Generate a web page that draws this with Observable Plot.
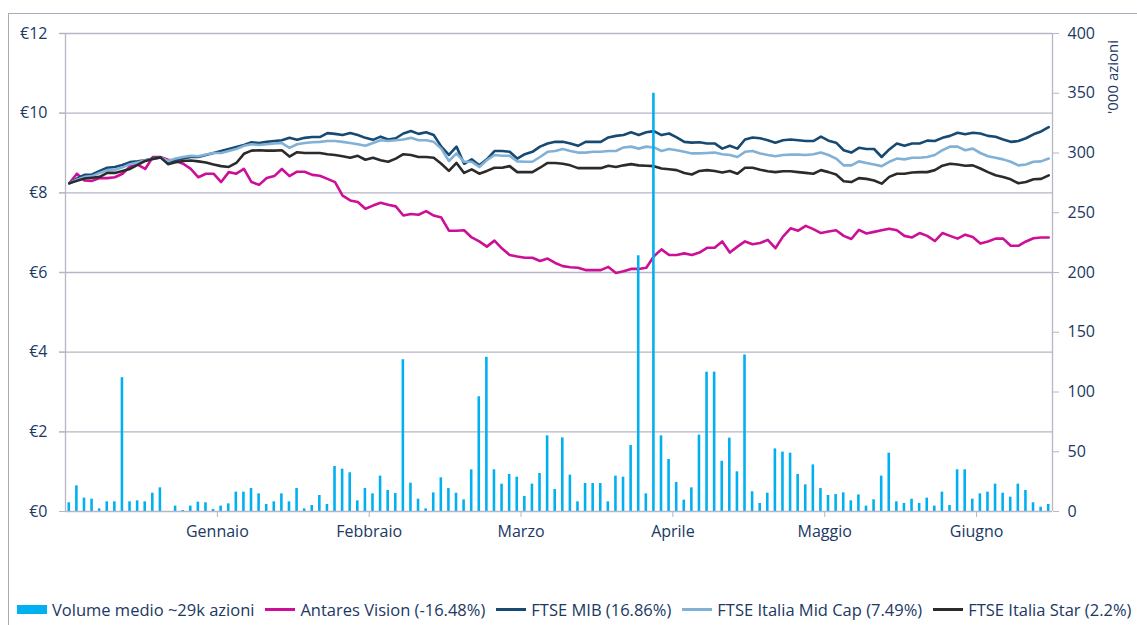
<!DOCTYPE html>
<html><head><meta charset="utf-8">
<script src="https://cdn.jsdelivr.net/npm/d3@7"></script>
<script src="https://cdn.jsdelivr.net/npm/@observablehq/plot@0.6"></script>
<style>
html,body{margin:0;padding:0;background:#fff;}
body{width:1137px;height:625px;position:relative;overflow:hidden;font-family:"Open Sans",sans-serif;color:#203864;}
#frame{position:absolute;left:8px;top:13px;width:1200px;height:700px;border-left:1.5px solid #aaaab8;border-top:1.5px solid #aaaab8;}
#chart{position:absolute;left:0;top:0;}
#ylab2{position:absolute;left:1112px;top:77px;transform:translate(-50%,-50%) rotate(-90deg);font-size:15px;white-space:nowrap;color:#203864;}
#legend{position:absolute;left:17px;top:598px;display:flex;align-items:center;gap:11px;white-space:nowrap;font-size:16.5px;color:#203864;}
.item{display:flex;align-items:center;gap:5px;}
.sw-bar{width:30px;height:9px;background:#00b0f0;}
.sw-line{width:30px;height:3px;}
</style>
</head><body>
<div id="frame"></div>
<div id="chart"></div>
<div id="ylab2">'000 azioni</div>
<div id="legend"></div>
<script>
const months = ["Gennaio","Febbraio","Marzo","Aprile","Maggio","Giugno"];
const monthTicks = [20,40,60,80,100,120];
const priceTicks = [0,2,4,6,8,10,12];
const volumeTicks = [0,50,100,150,200,250,300,350,400];

const volume = [7.3,21.5,11.2,10.3,2.2,8.1,8.1,112,8.1,8.9,8.1,15.3,19.8,0,4.5,0.8,4.5,7.8,7.3,1.7,
4.5,6.4,16.2,16.2,19.2,14.8,5.9,8.1,14.8,8.1,19.2,2.2,5,13.4,5.9,37.7,35.4,32.4,8.9,19.2,
14.8,29.6,17.6,15,127,23.7,10.3,2.2,15.6,28.2,19.2,15.3,9.8,34.9,96,129,34.9,22.9,31,28.7,
12.6,22.9,31.8,63.3,18.4,61.6,30.4,8.1,23.4,23.4,23.4,8.1,29.6,28.7,55.2,214,14.8,350,63.3,43.5,
24.3,9.5,19.8,63.9,116.6,116.6,42,61.4,33.2,131,16.5,6.7,15.3,52.4,49.7,48.8,31,22.3,39,19.2,
13.4,14.2,15.6,8.9,13.9,4.5,9.8,29.6,48.8,8.1,6.7,10.3,6.7,11.2,4.5,16.2,5,34.9,34.9,10.3,
14.8,16.2,22.9,15.3,12,22.9,17.6,7.3,3.6,5.9];

const antares = [8.24,8.48,8.31,8.3,8.37,8.37,8.39,8.48,8.66,8.71,8.6,8.9,8.9,8.83,8.8,8.73,8.6,8.39,8.48,8.48,
8.27,8.52,8.48,8.6,8.27,8.2,8.37,8.42,8.6,8.42,8.53,8.53,8.45,8.43,8.35,8.27,7.93,7.81,7.77,7.6,
7.68,7.75,7.7,7.66,7.43,7.47,7.45,7.54,7.43,7.38,7.05,7.05,7.06,6.88,6.78,6.65,6.8,6.6,6.44,6.4,
6.37,6.37,6.29,6.35,6.24,6.16,6.13,6.12,6.06,6.06,6.06,6.14,5.99,6.03,6.09,6.09,6.12,6.41,6.58,6.44,
6.44,6.48,6.44,6.5,6.62,6.62,6.78,6.5,6.65,6.78,6.71,6.74,6.82,6.61,6.9,7.11,7.05,7.17,7.09,6.99,
7.03,7.06,6.92,6.84,7.07,6.98,7.02,7.06,7.1,7.06,6.92,6.88,6.99,6.92,6.79,6.99,6.92,6.85,6.95,6.89,
6.73,6.78,6.85,6.85,6.67,6.67,6.78,6.86,6.88,6.88];

const ftseMib = [8.24,8.36,8.45,8.46,8.55,8.63,8.65,8.7,8.77,8.79,8.82,8.86,8.89,8.78,8.82,8.86,8.9,8.9,8.95,9.0,
9.05,9.1,9.15,9.2,9.27,9.25,9.28,9.3,9.32,9.38,9.33,9.38,9.4,9.4,9.5,9.48,9.45,9.5,9.45,9.38,
9.33,9.41,9.34,9.37,9.49,9.55,9.48,9.52,9.45,9.16,8.95,9.16,8.73,8.84,8.69,8.84,9.05,9.05,9.03,8.86,
8.97,9.03,9.16,9.24,9.28,9.28,9.24,9.18,9.28,9.28,9.28,9.39,9.43,9.45,9.52,9.45,9.52,9.55,9.45,9.49,
9.39,9.28,9.26,9.27,9.24,9.24,9.11,9.18,9.11,9.34,9.39,9.37,9.32,9.26,9.32,9.34,9.32,9.3,9.3,9.41,
9.31,9.26,9.07,9.01,9.13,9.1,9.1,8.9,9.09,9.24,9.18,9.24,9.24,9.31,9.3,9.38,9.43,9.51,9.47,9.51,
9.49,9.43,9.41,9.34,9.28,9.3,9.37,9.47,9.54,9.65];

const midCap = [8.24,8.33,8.4,8.42,8.5,8.57,8.58,8.64,8.72,8.76,8.82,8.85,8.89,8.8,8.86,8.9,8.93,8.92,8.96,9.0,
9.0,9.05,9.1,9.18,9.22,9.2,9.22,9.24,9.25,9.13,9.22,9.25,9.27,9.28,9.3,9.3,9.28,9.25,9.22,9.18,
9.25,9.32,9.3,9.32,9.34,9.38,9.32,9.32,9.28,9.11,8.8,8.99,8.78,8.78,8.65,8.82,8.95,8.93,8.93,8.79,
8.78,8.78,8.9,9.03,9.05,9.1,9.05,9.01,9.01,9.03,9.03,9.05,9.05,9.14,9.16,9.11,9.16,9.14,9.05,9.1,
9.07,9.03,8.99,8.99,9.0,9.01,8.97,8.95,8.9,9.03,9.05,8.99,8.95,8.92,8.95,8.96,8.96,8.95,8.97,9.01,
8.95,8.86,8.69,8.69,8.79,8.75,8.71,8.67,8.78,8.86,8.84,8.88,8.88,8.9,8.95,9.07,9.16,9.16,9.07,9.11,
9.0,8.92,8.88,8.84,8.78,8.69,8.71,8.78,8.79,8.86];

const star = [8.24,8.3,8.36,8.38,8.4,8.5,8.5,8.55,8.6,8.7,8.8,8.85,8.89,8.72,8.77,8.8,8.81,8.79,8.76,8.71,
8.67,8.65,8.75,8.98,9.06,9.07,9.06,9.06,9.07,8.91,9.02,9.0,9.0,9.0,8.97,8.95,8.92,8.88,8.93,8.83,
8.88,8.82,8.78,8.86,8.97,8.95,8.9,8.9,8.88,8.73,8.55,8.75,8.5,8.59,8.48,8.55,8.63,8.63,8.67,8.52,
8.52,8.52,8.63,8.75,8.75,8.73,8.69,8.62,8.62,8.62,8.62,8.68,8.65,8.69,8.72,8.69,8.68,8.67,8.61,8.59,
8.57,8.5,8.46,8.55,8.57,8.55,8.51,8.55,8.48,8.63,8.63,8.58,8.54,8.52,8.54,8.54,8.52,8.5,8.48,8.57,
8.52,8.46,8.29,8.27,8.37,8.35,8.31,8.23,8.4,8.48,8.48,8.51,8.52,8.52,8.57,8.68,8.73,8.71,8.68,8.69,
8.61,8.52,8.44,8.4,8.34,8.24,8.27,8.34,8.35,8.44];

const seriesNames = ["Antares Vision (-16.48%)","FTSE MIB (16.86%)","FTSE Italia Mid Cap (7.49%)","FTSE Italia Star (2.2%)"];
const seriesColors = ["#cc0f96","#174a72","#82b1d6","#2b2b2b"];
const volumeName = "Volume medio ~29k azioni";
const volumeColor = "#00b0f0";

const N = volume.length;
const days = d3.range(N);
const volMax = 400, priceMax = 12;
const toPrice = v => v * priceMax / volMax;
const gray = "#b6b6c6";
const textColor = "#203864";
const series = [antares, ftseMib, midCap, star];

const lines = series.map((s, k) => Plot.line(days, {
  x: i => i + 0.5, y: i => s[i], stroke: seriesColors[k], strokeWidth: 2.6, strokeLinejoin: "round"
}));

const chart = Plot.plot({
  width: 1137, height: 545,
  marginLeft: 65, marginRight: 85, marginTop: 33, marginBottom: 34,
  style: {fontFamily: "'Open Sans', sans-serif", fontSize: "16px", background: "transparent"},
  x: {domain: [0, N]},
  y: {domain: [0, priceMax]},
  marks: [
    Plot.ruleY(priceTicks.filter(d => d > 0), {x1: -6 / 7.592, x2: N, stroke: gray, strokeWidth: 1.3}),
    Plot.ruleX([0, N], {stroke: gray, strokeWidth: 1.3}),
    Plot.axisY({ticks: priceTicks, tickFormat: d => "€" + d, tickSize: 6, tickPadding: 12, stroke: gray, fill: textColor, fontSize: 16, label: null}),
    Plot.axisY({anchor: "right", ticks: volumeTicks.map(toPrice), tickFormat: d => String(Math.round(d * volMax / priceMax)), tickSize: 6, tickPadding: 9, stroke: gray, fill: textColor, fontSize: 16, label: null}),
    Plot.axisX({ticks: monthTicks, tickFormat: (d, i) => months[i], tickSize: 6, tickPadding: 8, stroke: gray, fill: textColor, fontSize: 16, label: null}),
    ...lines,
    Plot.rectY(days, {x1: i => i + 0.33, x2: i => i + 0.67, y1: 0, y2: i => toPrice(volume[i]), fill: volumeColor}),
    Plot.ruleY([0], {stroke: gray, strokeWidth: 1.3})
  ]
});
document.getElementById("chart").appendChild(chart);

const legend = document.getElementById("legend");
const items = [{name: volumeName, color: volumeColor, bar: true}].concat(seriesNames.map((n, k) => ({name: n, color: seriesColors[k]})));
items.forEach(it => {
  const d = document.createElement("div"); d.className = "item";
  const sw = document.createElement("div");
  sw.className = it.bar ? "sw-bar" : "sw-line";
  sw.style.background = it.color;
  const t = document.createElement("span"); t.textContent = it.name;
  d.appendChild(sw); d.appendChild(t); legend.appendChild(d);
});
</script>
</body></html>
